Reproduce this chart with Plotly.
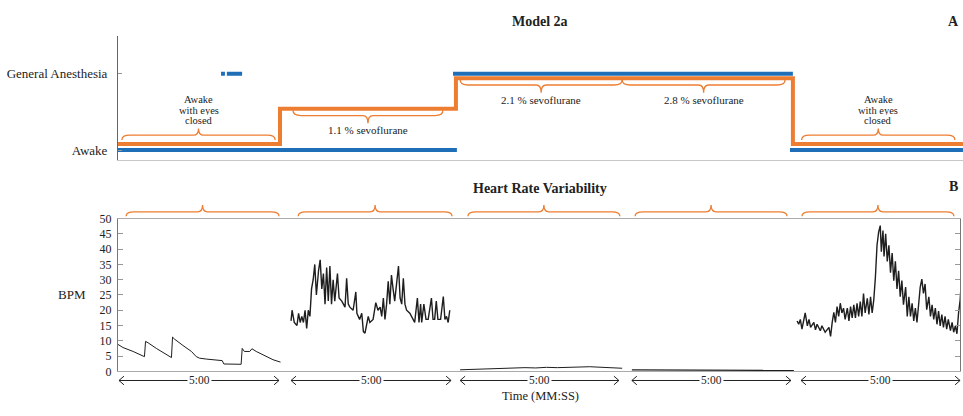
import plotly.graph_objects as go

W, H = 963, 416
FONT = "Liberation Serif"
ORANGE = "#ed7d31"
BLUE = "#1f6fb8"

# ---------------- data ----------------
state_ticks = [0, 1]
state_labels = ["Awake", "General Anesthesia"]

# Panel A: experimental condition level (orange step line), time in minutes
cond_time = [0.0, 5.0, 10.43, 20.83, 26.08]
cond_level = [0.08, 0.54, 0.94, 0.08, 0.08]

# Panel A: model state (blue), pieces separated by None
model_time = [0.0, 10.46, None, 10.34, 20.83, None, 20.74, 26.08, None, 3.18, 3.30, None, 3.36, 3.83]
model_state = [0, 0, None, 1, 1, None, 0, 0, None, 1, 1, None, 1, 1]

phase_labels = [["Awake", "with eyes", "closed"], ["1.1 % sevoflurane"], ["2.1 % sevoflurane"],
                ["2.8 % sevoflurane"], ["Awake", "with eyes", "closed"]]
phase_level = [0.08, 0.54, 0.94, 0.94, 0.08]
phase_span = [[0.12, 4.85], [5.40, 10.03], [10.56, 15.56], [15.56, 20.59], [21.10, 25.83]]

# Panel B: heart rate variability segments (start in minutes, t in seconds, BPM)
seg_start = [0.0, 5.34, 10.56, 15.86, 20.96]
seg_label = ["5:00", "5:00", "5:00", "5:00", "5:00"]

seg1_t = [0, 9, 28, 46, 49, 51, 56, 71, 89, 99, 101, 105, 120, 136, 145, 151, 164, 179, 193, 196,
          213, 228, 230, 234, 244, 248, 256, 275, 287, 301]
seg1_bpm = [8.8, 7.8, 6.5, 5.0, 4.8, 9.8, 9.3, 7.5, 5.5, 4.5, 11.2, 10.5, 8.5, 6.5, 4.8, 4.3, 4.0, 3.7, 3.5, 2.4,
            2.3, 2.3, 7.5, 6.5, 6.5, 7.4, 6.5, 4.8, 3.8, 3.0]

seg2_t = [0, 2, 6, 11, 14, 17, 20, 23, 26, 29, 32, 35, 38, 41, 44, 47, 51, 54, 57, 60,
          63, 66, 69, 72, 75, 78, 81, 86, 89, 94, 100, 103, 106, 109, 115, 120, 122, 127, 131, 134,
          137, 140, 143, 146, 152, 157, 161, 165, 168, 171, 174, 177, 180, 183, 186, 189, 192, 199, 202, 205,
          208, 211, 214, 220, 226, 229, 234, 237, 240, 242, 246, 250, 254, 260, 263, 266, 269, 272, 277, 282,
          285, 288, 291, 294]
seg2_bpm = [16.5, 20, 16, 15, 19, 16, 18, 16, 20, 14, 20, 18, 27, 30, 35, 25, 33, 36.5, 27, 32,
            22, 34, 23, 34.5, 22, 30, 23, 32, 24, 23, 21, 30.5, 22, 21, 20, 26, 19, 17, 19, 13,
            12.5, 16, 18, 16, 17, 22.5, 20, 21, 18, 24, 17, 22, 29.5, 22, 31.5, 27, 23, 34.5, 24, 22,
            30.5, 22, 20, 19, 17, 16, 24, 16, 22, 16, 22, 17, 17, 24, 17, 17, 23, 17, 17, 24.5,
            17, 18, 16, 20]

seg3_t = [0, 20, 40, 60, 80, 100, 120, 140, 160, 180, 200, 220, 240, 260, 280, 300]
seg3_bpm = [0.5, 0.6, 0.7, 0.8, 0.9, 1.2, 1.2, 1.1, 1.3, 1.2, 1.2, 1.4, 1.5, 1.3, 1.1, 1.0]

seg4_t = [0, 25, 50, 75, 100, 125, 150, 175, 200, 225, 250, 275, 300]
seg4_bpm = [0.5, 0.5, 0.45, 0.45, 0.4, 0.4, 0.35, 0.35, 0.3, 0.3, 0.3, 0.3, 0.3]

seg5_t = [0, 3, 6, 9, 15, 19, 22, 25, 31, 34, 37, 43, 46, 52, 59, 62, 65, 68, 71, 74,
          77, 80, 83, 86, 89, 93, 96, 99, 102, 105, 108, 111, 114, 117, 120, 123, 126, 130, 133, 136,
          139, 142, 145, 148, 151, 154, 156, 159, 161, 164, 167, 170, 173, 176, 179, 182, 185, 188, 191, 194,
          197, 201, 204, 207, 210, 213, 216, 219, 222, 225, 228, 231, 234, 237, 240, 244, 247, 250, 253, 256,
          259, 262, 265, 268, 271, 274, 277, 280, 284, 287, 290, 293, 296, 299, 302, 304]
seg5_bpm = [16.5, 15.4, 17, 13.8, 19.1, 14.9, 17, 14.4, 16, 13.6, 15.4, 13.3, 14.9, 12.8, 14.4, 11.4, 16, 19.3, 16, 21.2,
            18, 22.3, 19.1, 20.7, 17, 20.7, 16.5, 21.2, 17.5, 21.8, 17.5, 22.3, 18, 22.8, 18, 25.5, 19.1, 23.9, 18.6, 24.4,
            19.1, 23.4, 30.8, 41.3, 45.6, 47.7, 39.2, 46.1, 37.6, 45, 36, 41.3, 32.3, 38.7, 29.7, 36, 27, 32.9, 24.4, 29.7,
            21.8, 27.6, 18, 24.4, 18, 22.3, 16.5, 20.7, 16, 23.4, 27.6, 30.2, 25.5, 28.6, 20.2, 24.4, 18, 21.8, 17, 20.7,
            15.4, 19.7, 14.9, 18.6, 14.4, 18, 13.8, 17, 13.3, 16, 12.8, 14.9, 12.3, 19.1, 23.4, 29.2]

seg_times = [seg1_t, seg2_t, seg3_t, seg4_t, seg5_t]
seg_values = [seg1_bpm, seg2_bpm, seg3_bpm, seg4_bpm, seg5_bpm]
seg_width = [1.0, 1.4, 1.0, 1.2, 1.4]

bpm_ticks = [0, 5, 10, 15, 20, 25, 30, 35, 40, 45, 50]
arrow_span = [[0.03, 4.97], [5.34, 10.28], [10.56, 15.46], [15.86, 20.77], [21.08, 25.99]]
brace_span_b = [[0.25, 4.97], [5.56, 10.31], [10.80, 15.49], [15.96, 20.65], [21.11, 25.80]]

# ---------------- geometry helpers ----------------
XA_DOM = [118 / W, 1.0]
XA_RANGE = [0, 845 / 32.4]
XB_DOM = [118 / W, 960 / W]
XB_RANGE = [0, 842 / 32.4]
YA_DOM = [1 - 158 / H, 1 - 30 / H]
YA_RANGE = [-10 / 79, 1 + 39 / 79]
YB_DOM = [1 - 377 / H, 1 - 219 / H]


def xpix(t):
    return W * (XB_DOM[0] + (t - XB_RANGE[0]) / (XB_RANGE[1] - XB_RANGE[0]) * (XB_DOM[1] - XB_DOM[0]))


def ypix_a(v):
    frac = (v - YA_RANGE[0]) / (YA_RANGE[1] - YA_RANGE[0])
    return H * (1 - (YA_DOM[0] + frac * (YA_DOM[1] - YA_DOM[0])))


def P(x, y):
    return f"{x / W:.5f},{1 - y / H:.5f}"


def brace_path(x0, x1, y_end, y_line, y_tip, r=8, rt=5):
    xm = (x0 + x1) / 2
    return (f"M{P(x0, y_end)} Q{P(x0, y_line)} {P(x0 + r, y_line)} L{P(xm - rt, y_line)} "
            f"Q{P(xm, y_line)} {P(xm, y_tip)} Q{P(xm, y_line)} {P(xm + rt, y_line)} "
            f"L{P(x1 - r, y_line)} Q{P(x1, y_line)} {P(x1, y_end)}")


fig = go.Figure()

# Panel A traces
fig.add_trace(go.Scatter(x=model_time, y=model_state, mode="lines", xaxis="x", yaxis="y",
                         line=dict(color=BLUE, width=4), showlegend=False, hoverinfo="skip"))
fig.add_trace(go.Scatter(x=cond_time, y=cond_level, mode="lines", xaxis="x", yaxis="y",
                         line=dict(color=ORANGE, width=4, shape="hv"), showlegend=False, hoverinfo="skip"))

# Panel B traces
for s, ts, vs, wd in zip(seg_start, seg_times, seg_values, seg_width):
    fig.add_trace(go.Scatter(x=[s + t / 60 for t in ts], y=vs, mode="lines", xaxis="x2", yaxis="y2",
                             line=dict(color="#1e1e1e", width=wd), showlegend=False, hoverinfo="skip"))

shapes = []
annotations = []


def text(x, y, s, size=11, bold=False, **kw):
    annotations.append(dict(x=x / W, y=1 - y / H, xref="paper", yref="paper", text=f"<b>{s}</b>" if bold else s,
                            showarrow=False, xanchor="center", yanchor="middle",
                            font=dict(family=FONT, size=size, color="#222"), **kw))


bstyle = dict(type="path", xref="paper", yref="paper", line=dict(color=ORANGE, width=1.3))

# Panel A braces + labels
for (a, b), lev, lab in zip(phase_span, phase_level, phase_labels):
    x0, x1 = xpix(a), xpix(b)
    yl = ypix_a(lev)
    if len(lab) > 1:  # brace pointing up, label above
        shapes.append(dict(path=brace_path(x0, x1, yl - 4, yl - 9, yl - 16), **bstyle))
        for i, line in enumerate(lab):
            text((x0 + x1) / 2, yl - 46 + i * 10.5, line, size=10.5, height=10, borderpad=0)
    else:  # brace pointing down, label below
        shapes.append(dict(path=brace_path(x0, x1, yl + 1.5, yl + 7, yl + 15), **bstyle))
        text((x0 + x1) / 2, yl + 22, lab[0], size=11)

# Panel B braces
for a, b in brace_span_b:
    shapes.append(dict(path=brace_path(xpix(a), xpix(b), 216.5, 212, 205), **bstyle))

# Time arrows
ya = 386.5
astyle = dict(xref="paper", yref="paper", line=dict(color="#222", width=1))
for (a, b), lab in zip(arrow_span, seg_label):
    x0, x1 = xpix(a), xpix(b)
    shapes.append(dict(type="line", x0=x0 / W, x1=x1 / W, y0=1 - ya / H, y1=1 - ya / H, **astyle))
    shapes.append(dict(type="path", path=f"M{P(x0 + 5, ya - 4.5)} L{P(x0, ya)} L{P(x0 + 5, ya + 4.5)}", **astyle))
    shapes.append(dict(type="path", path=f"M{P(x1 - 5, ya - 4.5)} L{P(x1, ya)} L{P(x1 - 5, ya + 4.5)}", **astyle))
    text((x0 + x1) / 2, ya, lab, size=11.5, bgcolor="white", borderpad=1)

# Titles and labels
text(540, 15, "Model 2a", size=14, bold=True)
text(953, 15, "A", size=14, bold=True)
text(540, 188, "Heart Rate Variability", size=14, bold=True)
text(953, 186, "B", size=14, bold=True)
text(72, 297, "BPM", size=13)
text(540, 403, "Time (MM:SS)", size=12.5)

fig.update_layout(
    width=W, height=H, autosize=False,
    margin=dict(l=0, r=0, t=0, b=0),
    paper_bgcolor="white", plot_bgcolor="white",
    font=dict(family=FONT, color="#222"),
    shapes=shapes, annotations=annotations,
    xaxis=dict(domain=XA_DOM, range=XA_RANGE, anchor="y", showline=True, linecolor="#c8c8c8", linewidth=1,
               showticklabels=False, ticks="", showgrid=False, zeroline=False),
    yaxis=dict(domain=YA_DOM, range=YA_RANGE, anchor="x", tickvals=state_ticks, ticktext=state_labels,
               ticks="inside", ticklen=4, tickcolor="#999", showline=True, linecolor="#666", linewidth=1,
               showgrid=False, zeroline=False, ticklabelstandoff=7,
               tickfont=dict(family=FONT, size=13, color="#222")),
    xaxis2=dict(domain=XB_DOM, range=XB_RANGE, anchor="y2", showline=True, linecolor="#aaa", linewidth=1,
                mirror=True, showticklabels=False, ticks="", showgrid=False, zeroline=False),
    yaxis2=dict(domain=YB_DOM, range=[0, 50], anchor="x2", tickvals=bpm_ticks, ticks="inside", ticklen=5,
                tickcolor="#999", showline=True, linecolor="#777", linewidth=1, mirror="ticks",
                showgrid=False, zeroline=False, ticklabelstandoff=3,
                tickfont=dict(family=FONT, size=12, color="#222")),
)

fig.write_html("out.html", config={"displayModeBar": False},
               post_script="document.body.style.margin='0';document.body.style.overflow='hidden';")
